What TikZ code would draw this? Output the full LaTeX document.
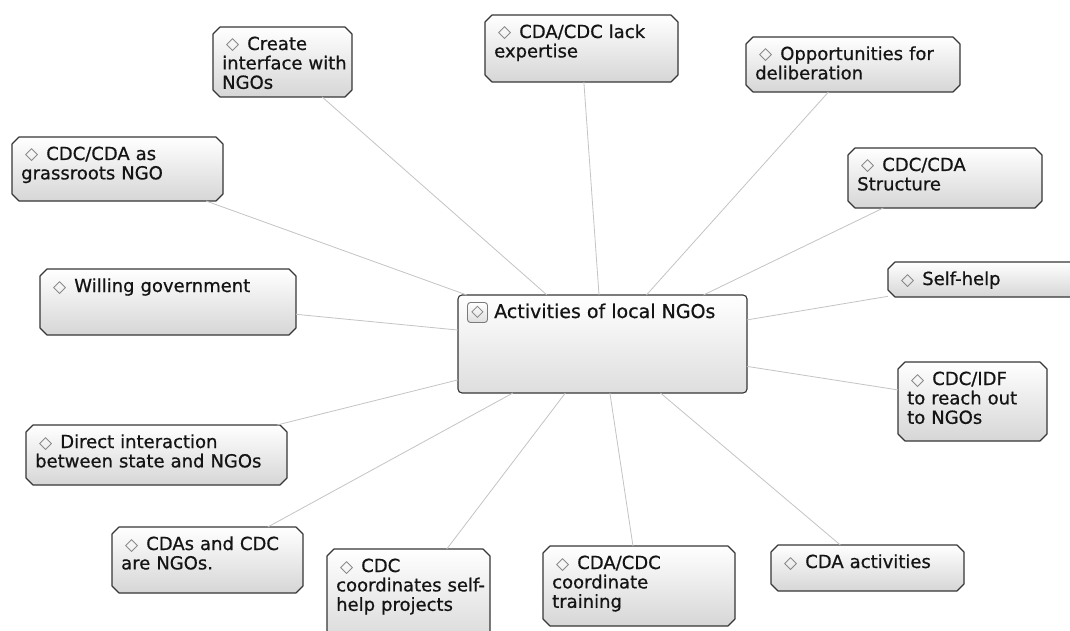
\documentclass[tikz,border=0pt]{standalone}
\usepackage{fontspec}
\setmainfont{DejaVu Sans}[FakeBold=0.7]
\newfontfamily\markfont{DejaVu Sans}
\usetikzlibrary{calc}

\definecolor{edgegray}{HTML}{C4C4C4}
\definecolor{framegray}{HTML}{363636}
\definecolor{inkgray}{HTML}{141414}
\definecolor{diagray}{HTML}{7A7A7A}
\definecolor{shadebot}{HTML}{D6D6D6}
\definecolor{hubbot}{HTML}{DEDEDE}

% outlined diamond that leads every topic title
\newcommand\topicmark{\hspace*{4pt}{\markfont\color{diagray}\fontsize{17}{17}\selectfont ◇}\hspace*{8pt}}

\tikzset{
  topicarea/.style={rectangle, inner sep=0pt, outer sep=0pt},
  topicframe/.style={draw=framegray, line width=1.1pt, line join=round,
    top color=white, bottom color=shadebot},
  topictext/.style={anchor=base west, inner sep=0pt, text width=260pt,
    align=left, text=inkgray, font=\fontsize{18}{19.4}\selectfont},
  hub/.style={rectangle, rounded corners=4pt, draw=framegray, line width=1.1pt,
    top color=white, bottom color=hubbot, inner sep=0pt, outer sep=0pt},
  hubicon/.style={rectangle, rounded corners=3pt, draw=diagray, line width=0.9pt,
    top color=white, bottom color=hubbot, inner sep=0pt,
    minimum width=20pt, minimum height=20pt},
  link/.style={draw=edgegray, line width=0.8pt}
}

% \topicbox{name}{left}{top}{right}{bottom}{text}: chamfered box with its title
\newcommand\topicbox[6]{%
  \node[topicarea, minimum width={(#4-#2)*1pt}, minimum height={(#5-#3)*1pt}]
    (#1) at ({(#2+#4)/2},{(#3+#5)/2}) {};
  \path[topicframe]
    ([xshift=7pt]#1.north west) -- ([xshift=-7pt]#1.north east)
    -- ([yshift=-7pt]#1.north east) -- ([yshift=7pt]#1.south east)
    -- ([xshift=-7pt]#1.south east) -- ([xshift=7pt]#1.south west)
    -- ([yshift=7pt]#1.south west) -- ([yshift=-7pt]#1.north west) -- cycle;
  \node[topictext] (#1-text) at ({#2+9},{#3+23}) {#6};
}

\begin{document}
\begin{tikzpicture}[x=1pt, y=-1pt]
  \useasboundingbox[fill=white] (0,0) rectangle (1070,631);

  % central topic
  \node[hub, minimum width=289pt, minimum height=98pt] (hub) at (602.5,344) {};
  \node[hubicon] (hub-icon) at (477.5,312.5)
    {\markfont\color{diagray}\fontsize{16}{16}\selectfont ◇};
  \node[anchor=base west, inner sep=0pt, text=inkgray, font=\fontsize{19}{22}\selectfont]
    (hub-text) at (494,318) {Activities of local NGOs};

  % surrounding topics
  \topicbox{create}{213}{27}{352}{97}{\topicmark Create\\interface with\\NGOs}
  \topicbox{lack}{485}{15}{678}{82}{\topicmark CDA/CDC lack\\expertise}
  \topicbox{deliberation}{746}{37}{960}{92}{\topicmark Opportunities for\\deliberation}
  \topicbox{grassroots}{12}{137}{223}{201}{\topicmark CDC/CDA as\\grassroots NGO}
  \topicbox{structure}{848}{148}{1042}{208}{\topicmark CDC/CDA\\Structure}
  \topicbox{willing}{40}{269}{296}{335}{\topicmark Willing government}
  \topicbox{selfhelp}{888}{262}{1090}{297}{\topicmark Self-help}
  \topicbox{reach}{898}{362}{1047}{441}{\topicmark CDC/IDF\\to reach out\\to NGOs}
  \topicbox{direct}{26}{425}{287}{485}{\topicmark Direct interaction\\between state and NGOs}
  \topicbox{arengos}{112}{527}{303}{593}{\topicmark CDAs and CDC\\are NGOs.}
  \topicbox{projects}{327}{549}{490}{650}{\topicmark CDC\\coordinates self-\\help projects}
  \topicbox{training}{543}{546}{735}{626}{\topicmark CDA/CDC\\coordinate\\training}
  \topicbox{activities}{771}{545}{964}{591}{\topicmark CDA activities}

  % spokes from the central topic
  \foreach \t in {create,lack,deliberation,grassroots,structure,willing,selfhelp,
                  reach,direct,arengos,projects,training,activities}
    \draw[link] (hub) -- (\t);
\end{tikzpicture}
\end{document}
